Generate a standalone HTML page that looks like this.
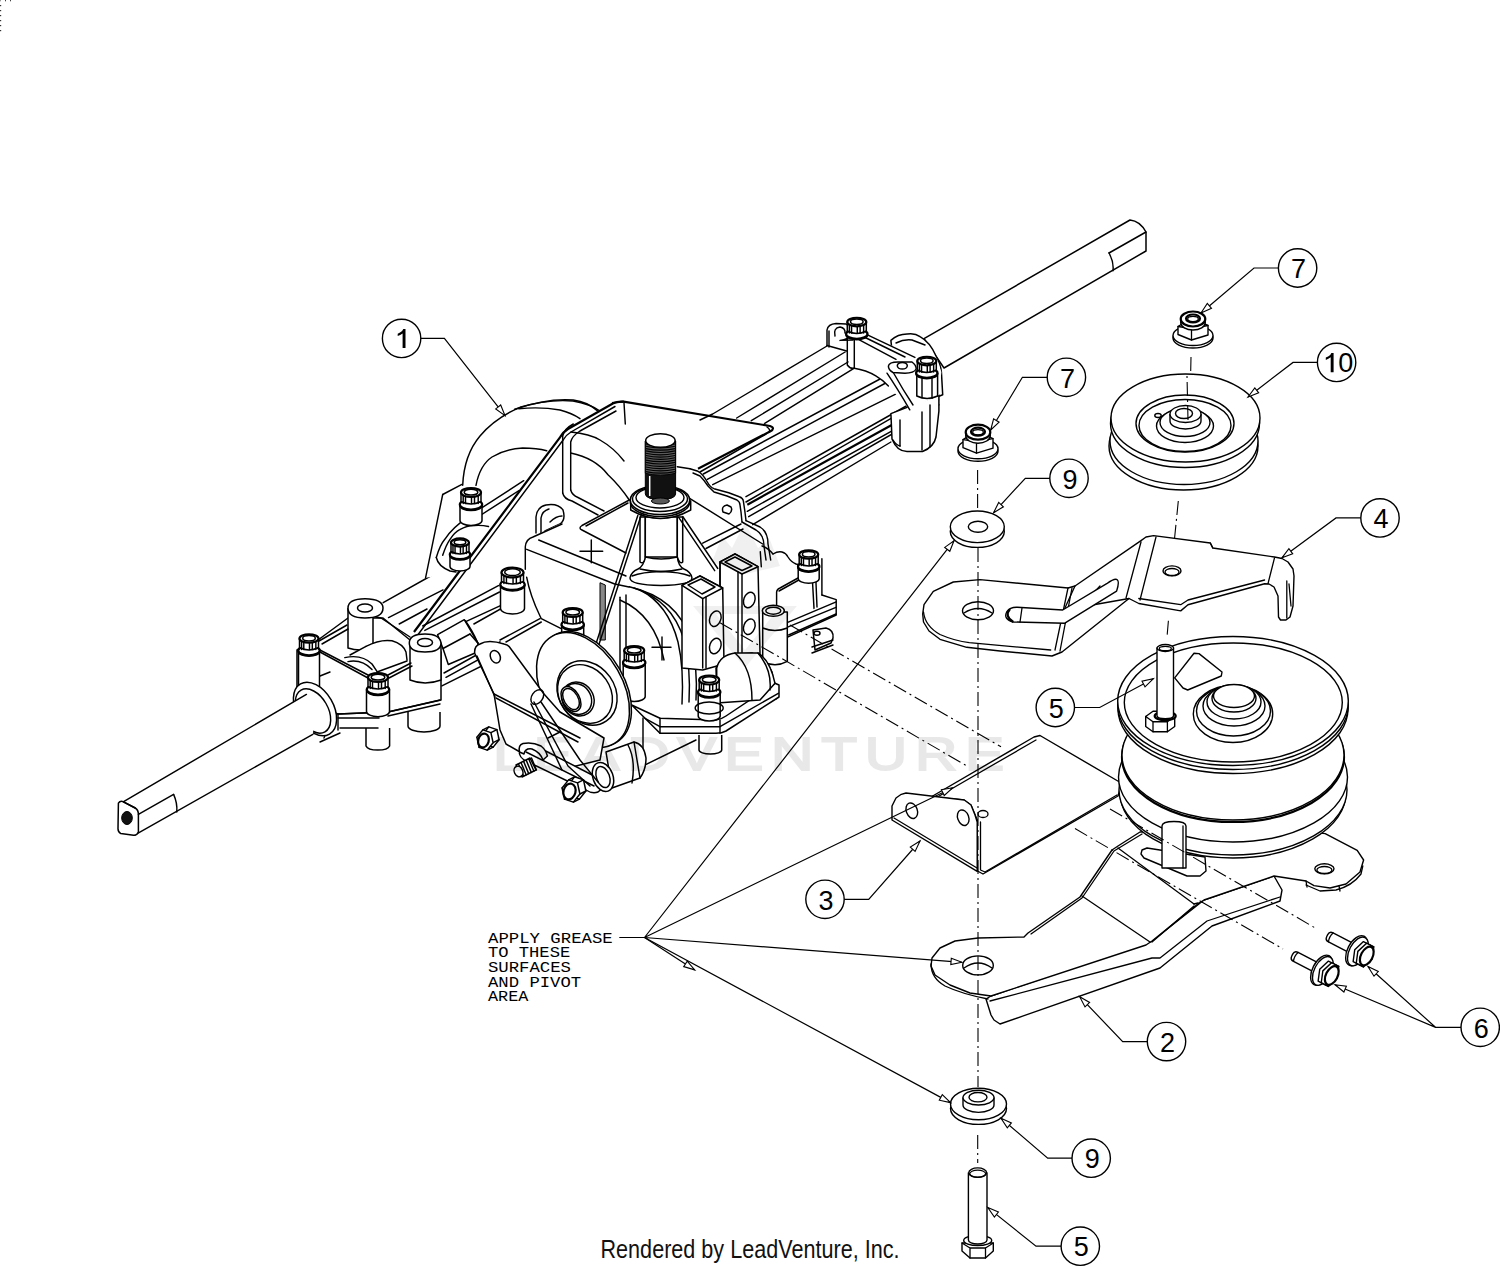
<!DOCTYPE html>
<html><head><meta charset="utf-8"><style>
html,body{margin:0;padding:0;background:#fff;width:1500px;height:1267px;overflow:hidden}
svg{display:block}
.c{fill:#fff;stroke:#000;stroke-width:1.4}
.n{font-family:"Liberation Sans",sans-serif;font-size:27px;text-anchor:middle;fill:#000}
.ld{fill:none;stroke:#000;stroke-width:1.2}
.ah{fill:#fff;stroke:#000;stroke-width:1.1;stroke-linejoin:miter}
.w{fill:#fff;stroke:#000;stroke-width:1.4;stroke-linejoin:round}
.f{fill:#fff;stroke:none}
.tx .l{stroke-width:1.45}
.tx .w{stroke-width:1.5}
.bt{fill:#fff;stroke:#000;stroke-width:2.2}
.l{fill:none;stroke:#000;stroke-width:1.3;stroke-linejoin:round;stroke-linecap:round}
.t{fill:none;stroke:#000;stroke-width:2.2;stroke-linejoin:round}
.k{fill:#111;stroke:#000;stroke-width:1}
.gr{fill:#888;stroke:#000;stroke-width:1}
.th{fill:none;stroke:#000;stroke-width:1.15}
.thr{fill:#5a5a5a;stroke:#000;stroke-width:1}
.hl{fill:none;stroke:#fff;stroke-width:1.5}
.dd{fill:none;stroke:#000;stroke-width:1.1;stroke-dasharray:14,4,2,4}
.g{font-family:"Liberation Mono",monospace;font-size:14.5px;fill:#000}
.r{font-family:"Liberation Sans",sans-serif;font-size:25.5px;fill:#111}
.wm{font-family:"Liberation Sans",sans-serif;font-size:45.5px;fill:#000;stroke:#000;stroke-width:1.8;letter-spacing:6px}
</style></head>
<body><svg width="1500" height="1267" viewBox="0 0 1500 1267">
<g class="tx">
<path d="M924,338.7 L1130,220 Q1140,221 1146,232 L1146,251 L944,368 Z" class="w"/>
<path d="M1109,253 L1146,232" class="l"/>
<path d="M1109,253 Q1114,262 1113,270.7" class="l"/>
<path d="M700,413.3 L830,347.5 L941,395 L936,440 L888,448 L755,530 L700,520 Z" class="f"/>
<path d="M700,420 L712.7,414 L827,346" class="l"/>
<path d="M736.7,418 L846.7,351" class="l"/>
<path d="M751.3,420.7 L848,362" class="l"/>
<path d="M764.7,423.3 L854.3,368.2" class="l"/>
<path d="M703.3,474 L888.4,374.5" class="l"/>
<path d="M707.3,479.3 L895,378" class="l"/>
<path d="M712.7,484.7 L909.8,387.1" class="l"/>
<path d="M746,496.7 L909.8,404" class="l"/>
<path d="M746,502 L938.9,390.9" class="l"/>
<path d="M747.3,504.7 L938.9,399" class="t"/>
<path d="M747.3,511.3 L938.9,404.8" class="l"/>
<path d="M748.7,516.7 L920,418" class="l"/>
<path d="M752.7,524.7 L890.9,442" class="l"/>
<path d="M723,512 Q721,506 727,505 L731,507 Q733,511 729,514 Z" class="w"/>
<path d="M690,468.7 L698,471.3 Q703,474 707.3,482 Q710,487 714,488.7 L728.7,492.7 L739.3,496.7 Q743,498 743.3,500.7 L744.7,510 L746,520.7" class="l"/>
<path d="M693,473 L700,476 Q704,480 708,486 L714,492 L727,496 L737,500 Q740,502 740,505 L741,512 L742,522" class="l"/>
<path d="M612,403 L623.6,401.7 L770,426 Q776,428 770,431.5 L698,468.7" class="t"/>
<path d="M767,427 Q771,430 769,432" class="l"/>
<path d="M766,434 L700,472" class="l"/>
<path d="M383.2,602.7 L444,568.5 L540,560 L540,640 L446,677 L400,640 Z" class="f"/>
<path d="M383.2,602.7 L444,568.5" class="l"/>
<path d="M388.5,617.6 L443,589.9" class="l"/>
<path d="M399.2,624 L427,609" class="l"/>
<path d="M422.7,626 L498.4,585.6" class="l"/>
<path d="M424.8,630.4 L499.5,592" class="l"/>
<path d="M439.7,633.6 L507,602.7" class="l"/>
<path d="M473.9,624 L540,586.7" class="l"/>
<path d="M444,673 L540,619.7" class="l"/>
<path d="M446,677.3 L540,626" class="l"/>
<path d="M441.9,685.9 L540,636.8" class="l"/>
<path d="M437.6,634.7 L464.3,619.7 L478,643.2 L478,651.7 L448.3,664.5 L443,648.5 Z" class="w"/>
<path d="M443,648.5 L470,634" class="l"/>
<path d="M470,634 L478,643.2" class="l"/>
<path d="M465.3,620.8 Q472,630 478,643.2" class="l"/>
<path d="M890.9,340.4 Q898,334 907.3,334.1 Q915,333 920,336.6 Q930,342 936,356 Q941,365 941.4,372 L942.7,394.7 L930,400 L895,380 Z" class="w"/>
<path d="M896,343 Q904,339 912,340 L925,345" class="l"/>
<path d="M890.9,413.6 L892,439 Q897,451.5 907,451.5 L922.5,451.5 Q934,447 936,437 L938.9,411.1 L938.9,395 Z" class="w"/>
<path d="M900,420 L900,446" class="l"/>
<path d="M922,412 L922,450" class="l"/>
<path d="M930,405 L930,447" class="l"/>
<path d="M893,440 Q896,445 900,446" class="l"/>
<path d="M827,329 L827,345.5 L846.7,352 L854.3,368.2 L875.8,375.8 L888.4,385.9 L909.8,409.8 L938.9,395 L941.4,372 L937,360 L916,357 L860,331 L850,325 L838,323 Z" class="f"/>
<path d="M827,345.5 L827,330 Q828,324 836,323.5 L846,324 Q851,327 850.5,333 Q849,340 840,340.4 L853,340" class="l"/>
<path d="M835,336 Q833,328 840,327 Q845.5,328 845,333" class="l"/>
<path d="M827,345.5 L846.7,351" class="l"/>
<path d="M829,347 L829,331" class="l"/>
<path d="M847.3,338 L847.3,365 Q850,369 854.3,368.2 L854.3,338" class="l"/>
<path d="M860.6,331.6 L914.9,357.4" class="l"/>
<path d="M855.6,337.9 L896,359.3" class="l"/>
<path d="M858,334 L905,357" class="l"/>
<path d="M854.3,368.2 Q866,370 875.8,375.8 Q883,380 888.4,385.9" class="l"/>
<path d="M887,373.2 Q897,388 909.8,409.8" class="l"/>
<path d="M893,372 Q903,390 913,405" class="l"/>
<path d="M888.4,366 Q889,361.9 898,361.9 L912,362 Q916.2,365 916.2,369 Q914,373.2 905,373.2 L893,372.5 Q888.4,370 888.4,366 Z" class="w"/>
<ellipse cx="902.3" cy="365.7" rx="5" ry="3.3" class="w" />
<path d="M916.8,373 L916.8,396 Q927,401 937.6,396 L937.6,373" class="w"/>
<path d="M922,376 L922,397" class="l"/>
<path d="M932,376 L932,398" class="l"/>
<ellipse cx="856.8" cy="335.0" rx="10.7" ry="4.775" class="w" />
<ellipse cx="856.8" cy="334.0" rx="10.7" ry="4.775" class="bt" />
<path d="M847.3,322.0 L847.3,331.0 Q856.8,336.0 866.3,331.0 L866.3,322.0 Z" class="w"/>
<path d="M849.39,324.9925 L849.39,333.0" class="l"/>
<path d="M851.5749999999999,324.9925 L851.5749999999999,333.0" class="l"/>
<path d="M857.275,324.9925 L857.275,333.0" class="l"/>
<path d="M860.125,324.9925 L860.125,333.0" class="l"/>
<path d="M863.64,324.9925 L863.64,333.0" class="l"/>
<ellipse cx="856.8" cy="322.0" rx="9.5" ry="4.275" class="bt" />
<ellipse cx="856.8" cy="321.7" rx="6.3" ry="2.6750000000000003" class="w" />
<ellipse cx="926.8" cy="374.0" rx="10.7" ry="4.775" class="w" />
<ellipse cx="926.8" cy="373.0" rx="10.7" ry="4.775" class="bt" />
<path d="M917.3,361.0 L917.3,370.0 Q926.8,375.0 936.3,370.0 L936.3,361.0 Z" class="w"/>
<path d="M919.39,363.9925 L919.39,372.0" class="l"/>
<path d="M921.5749999999999,363.9925 L921.5749999999999,372.0" class="l"/>
<path d="M927.275,363.9925 L927.275,372.0" class="l"/>
<path d="M930.125,363.9925 L930.125,372.0" class="l"/>
<path d="M933.64,363.9925 L933.64,372.0" class="l"/>
<ellipse cx="926.8" cy="361.0" rx="9.5" ry="4.275" class="bt" />
<ellipse cx="926.8" cy="360.7" rx="6.3" ry="2.6750000000000003" class="w" />
<path d="M366,728 L366,746 A12,5 0 0 0 389.6,746 L389.6,728" class="w"/>
<path d="M408,712 L408,726 A16,6 0 0 0 440,726 L440,712" class="w"/>
<path d="M297,650 L297,690 L300,700 L338,714 L388,712 L441,700 L441,652 L410,640 L383,618 L348,618 L318,640 Z" class="w"/>
<path d="M338,714 L388,712" class="l"/>
<path d="M338,718 L379,718" class="l"/>
<path d="M340,728 L378,728" class="l"/>
<path d="M338,714 L338,730" class="l"/>
<path d="M388,712 L440,700" class="l"/>
<path d="M388,716 L440,704" class="l"/>
<path d="M304,695 Q320,696 326,712 Q330,726 324,738" class="l"/>
<path d="M300,684 L330,672 M320,742 L340,733" class="l"/>
<path d="M348,608 L348,648 Q360,652 373,648 L373,608" class="w"/>
<path d="M410,643 L410,680 Q425,686 441,680 L441,643" class="w"/>
<path d="M348,608 Q348,598.7 365,598.7 Q383,599 383,608 Q383,618 365,618 Q348,618 348,608 Z" class="w"/>
<ellipse cx="365" cy="608" rx="7.5" ry="4" class="w" />
<path d="M409.3,643 Q409.3,634 425,634 Q440,634 441,643 Q441,652 425,652 Q409.3,652 409.3,643 Z" class="w"/>
<ellipse cx="425" cy="642.5" rx="7.5" ry="4" class="w" />
<path d="M344.8,657.6 L366,646 Q380,639 392,640.8 Q403,644 406,652 Q408,660 404,664 L377,672 Q372,662 360,658 Q352,656 344.8,657.6 Z" class="f"/>
<path d="M344.8,657.6 Q362,654 372,664 L376.8,671.2" class="l"/>
<path d="M348,661.6 Q362,659 372,669.6" class="l"/>
<path d="M350,655 L366,646.4" class="l"/>
<path d="M366,646.4 Q380,639 392,640.8 Q403,644 406,652 L407,660" class="l"/>
<path d="M377,672 L407,661" class="l"/>
<path d="M319,641 L347,625" class="l"/>
<path d="M322,644 L348,629" class="l"/>
<path d="M318,649 L368,675" class="l"/>
<path d="M320,652 L368,678" class="l"/>
<path d="M376,617 L381,618 L410,637" class="l"/>
<path d="M388,675 L411,663" class="l"/>
<path d="M389,678 L412,666" class="l"/>
<path d="M298.5,650.5 L298.5,690.5 A10.5,4.7250000000000005 0 0 0 319.5,690.5 L319.5,650.5" class="w"/>
<ellipse cx="309" cy="651.5" rx="10.7" ry="4.775" class="w" />
<ellipse cx="309" cy="650.5" rx="10.7" ry="4.775" class="bt" />
<path d="M299.5,638.5 L299.5,647.5 Q309,652.5 318.5,647.5 L318.5,638.5 Z" class="w"/>
<path d="M301.59,641.4925 L301.59,649.5" class="l"/>
<path d="M303.775,641.4925 L303.775,649.5" class="l"/>
<path d="M309.475,641.4925 L309.475,649.5" class="l"/>
<path d="M312.325,641.4925 L312.325,649.5" class="l"/>
<path d="M315.84,641.4925 L315.84,649.5" class="l"/>
<ellipse cx="309" cy="638.5" rx="9.5" ry="4.275" class="bt" />
<ellipse cx="309" cy="638.2" rx="6.3" ry="2.6750000000000003" class="w" />
<path d="M366.5,689.5 L366.5,711.5 A11.5,5.175 0 0 0 389.5,711.5 L389.5,689.5" class="w"/>
<ellipse cx="378" cy="690.5" rx="11.2" ry="5.0" class="w" />
<ellipse cx="378" cy="689.5" rx="11.2" ry="5.0" class="bt" />
<path d="M368.0,677.5 L368.0,686.5 Q378,691.5 388.0,686.5 L388.0,677.5 Z" class="w"/>
<path d="M370.2,680.65 L370.2,688.5" class="l"/>
<path d="M372.5,680.65 L372.5,688.5" class="l"/>
<path d="M378.5,680.65 L378.5,688.5" class="l"/>
<path d="M381.5,680.65 L381.5,688.5" class="l"/>
<path d="M385.2,680.65 L385.2,688.5" class="l"/>
<ellipse cx="378" cy="677.5" rx="10.0" ry="4.5" class="bt" />
<ellipse cx="378" cy="677.2" rx="6.8" ry="2.9" class="w" />
<ellipse cx="315" cy="709" rx="29" ry="18.5" class="w" transform="rotate(60 315 709)"/>
<ellipse cx="313" cy="711" rx="24" ry="15" class="l" transform="rotate(60 313 711)"/>
<path d="M123.2,801.9 L306.4,694.4 Q316,712 312.8,734.4 L135,834.9 Z" class="f"/>
<path d="M123.2,801.9 L306.4,694.4" class="l"/>
<path d="M135,834.9 L312.8,734.4" class="l"/>
<path d="M118.4,803.2 Q120,800.5 123.2,801.6 L135.2,808 Q138.4,810 138.4,814.4 L138.4,832 Q137,835.5 133.6,835.2 L120.8,833.6 Q118,832 118,828.8 Z" class="w"/>
<ellipse cx="127" cy="818" rx="5.3" ry="6.5" class="k" />
<path d="M138.4,814.4 L173.6,794.4" class="l"/>
<path d="M173.6,794.4 Q177.5,803 176.8,812" class="l"/>
<path d="M123.2,801.9 L135.2,808" class="l"/>
<path d="M425.6,577.7 L442.7,494.5 L461.9,484.4 L470,530 L445,575 Z" class="f"/>
<path d="M442.7,494.5 L425.6,577.7" class="l"/>
<path d="M442.7,494.5 L461.9,484.4" class="l"/>
<path d="M462.7,485.3 Q464,455 480,436 Q495,418 520,407.3 Q547,399 573,401 Q590,404 600,411 L585,450 L550,452 Q520,448 500,453.3 Q486,462 476,485.3 Z" class="f"/>
<path d="M462.7,485.3 Q464,455 480,436 Q495,418 520,407.3 Q547,399 573,401 Q590,404 600,411" class="l"/>
<path d="M514.7,409.3 Q547,398 573.3,400 Q588,402 597.3,410.7" class="l"/>
<path d="M518.7,408.7 Q541,406.5 560,410 Q572,413 580,418.7" class="l"/>
<path d="M476,485.3 Q480,465 492,457 Q505,449 522.7,448 Q537,448 546.7,450.7" class="l"/>
<path d="M436.3,557.5 Q440,545 444.8,539.3 Q452,528 469.3,515.9 L523.7,480.7 L526,486 L488.5,526.5 Q470,524 459.7,529.7 Q448,540 442.7,555.3 Q445,563 455.5,570.3 L450,576 Q438,568 436.3,557.5 Z" class="f"/>
<path d="M436.3,557.5 Q440,545 444.8,539.3 Q452,528 469.3,515.9 L523.7,480.7" class="l"/>
<path d="M474,519.5 L519,490.5" class="l"/>
<path d="M442.7,555.3 Q446,545 450,539.3 Q455,532 459.7,529.7 Q468,525 474.7,525.5 Q482,525 488.5,526.5" class="l"/>
<path d="M436.3,557.5 Q438,566 450,571 L456,572" class="l"/>
<path d="M479,521 Q482,512 480,503" class="l"/>
<path d="M562.7,440 Q564,432 573.3,424 L613.3,403.3 L624,402.7 L625.3,424 L640,440 L640,520 L613,525 L576,501 Q562.7,496 562.7,488 Z" class="f"/>
<path d="M562.7,493 L562.7,436 Q564,429 573.3,424" class="l"/>
<path d="M570.7,490 L570.7,442 Q572,436 580,431 L616,411" class="l"/>
<path d="M562.7,493 Q564,499 572,501 L598,515" class="l"/>
<path d="M570.7,490 Q572,495 578,497.5 L604,511" class="l"/>
<path d="M570.7,453 Q595,458 608,474.7 Q620,486 629.3,500" class="l"/>
<path d="M571,432 Q590,434 600,440 Q614,448 624,461" class="l"/>
<path d="M624,402.7 L625.3,424" class="l"/>
<path d="M536,533 L536,517 Q537,507 546,505 Q558,503 563,510 Q566,520 560,524 L545,531" class="l"/>
<path d="M541,533 L541,518 Q542,511 549,509" class="l"/>
<path d="M550,522 Q556,516 562,516" class="l"/>
<path d="M414,632 L560,437.3 Q563,432 568,429 L613.3,403.3 Q618,401 623.6,401.7" class="t"/>
<path d="M418.5,634 L563.5,439.5 Q566,435 571,432 L615,406.5" class="l"/>
<path d="M524,546 Q524,540 530,538 L560,524 L640,520 L700,560 L760,560 L800,600 L780,700 L700,740 L620,740 L520,700 L500,640 L524,600 Z" class="f"/>
<path d="M525.3,569.3 L525.3,546.7 Q526,539 533,537 L562,524" class="l"/>
<path d="M526.7,549.3 L614.7,584 L629,587" class="l"/>
<path d="M538.7,540 L626,576" class="l"/>
<path d="M629.3,500 L582,525.5 Q578,528 582,530 L626,553" class="l"/>
<path d="M628,503 L586,526" class="l"/>
<path d="M580,551.3 L602.7,551.3 M591.3,540 L591.3,562.7" class="l"/>
<path d="M652,647.3 L671,647.3 M662,637 L662,660" class="l"/>
<path d="M526.7,577.3 Q530,595 540,616 L541.3,618.7 L562.7,629.3" class="l"/>
<path d="M540,618.7 L500,640 M541.3,622 L506,642" class="l"/>
<path d="M600,582.7 L600,640 L605.3,640 L605.3,585 Z" class="gr"/>
<path d="M620,597.3 L620,690" class="l"/>
<path d="M626,595 L626,690" class="l"/>
<path d="M688,497.3 L762.7,544" class="l"/>
<path d="M677.3,466.7 L690,468.7" class="l"/>
<path d="M746,520.7 L760,527 Q768,532 768,544 L770.7,560" class="l"/>
<path d="M742,522 L756,530 Q764,535 764,546 L766,560" class="l"/>
<path d="M629.3,586.7 Q678,598 690.7,640 Q698,668 696,700" class="l"/>
<path d="M634,588 Q672,600 684,640 Q691,668 689,702" class="l"/>
<path d="M640,590 Q668,604 678,642 Q684,668 682,704" class="l"/>
<path d="M620,600 Q655,615 664,660" class="l"/>
<path d="M630,578 Q631,572 638,569 Q644,566 645.3,556 L677.3,556 Q678,566 684,569 Q691,572 692,578 Q692,585 661,585.5 Q630,585 630,578 Z" class="w"/>
<path d="M632,576 Q642,572 661,571.5 Q680,572 690,576" class="l"/>
<path d="M640,569 Q661,574 682,569" class="l"/>
<path d="M640,517 L640,562 Q644,565 645.3,557 L645.3,517 Z" class="w"/>
<path d="M645.3,517 L645.3,557 L677.3,557 L677.3,517 Z" class="w"/>
<path d="M677.3,517 L677.3,557 Q680,565 682.7,562 L682.7,517 Z" class="w"/>
<path d="M645.3,557 Q661,561 677.3,557" class="l"/>
<path d="M630.7,501 L630.7,510 Q660,527 690.7,510 L690.7,501 Z" class="w"/>
<ellipse cx="660" cy="502" rx="29.7" ry="14.5" class="w" />
<ellipse cx="660" cy="500" rx="29.7" ry="14.5" class="w" />
<ellipse cx="660" cy="499" rx="27.5" ry="12.5" class="l" />
<ellipse cx="660" cy="497.5" rx="24" ry="10.5" class="l" />
<path d="M645.3,441 L645.3,494 Q646,499.5 660.4,499.5 Q675,499.5 675.6,494 L675.6,441 Z" class="k"/>
<path d="M645.3,441 L645.3,473.3 Q660.4,477 675.6,473.3 L675.6,441 Z" class="thr"/>
<path d="M645.8,444.0 Q660.4,447.2 675.1,444.0" class="th"/>
<path d="M645.8,446.3 Q660.4,449.5 675.1,446.3" class="th"/>
<path d="M645.8,448.6 Q660.4,451.8 675.1,448.6" class="th"/>
<path d="M645.8,450.9 Q660.4,454.1 675.1,450.9" class="th"/>
<path d="M645.8,453.2 Q660.4,456.4 675.1,453.2" class="th"/>
<path d="M645.8,455.5 Q660.4,458.7 675.1,455.5" class="th"/>
<path d="M645.8,457.8 Q660.4,461.0 675.1,457.8" class="th"/>
<path d="M645.8,460.1 Q660.4,463.3 675.1,460.1" class="th"/>
<path d="M645.8,462.4 Q660.4,465.6 675.1,462.4" class="th"/>
<path d="M645.8,464.7 Q660.4,467.9 675.1,464.7" class="th"/>
<path d="M645.8,467.0 Q660.4,470.2 675.1,467.0" class="th"/>
<path d="M645.8,469.3 Q660.4,472.5 675.1,469.3" class="th"/>
<path d="M645.8,471.6 Q660.4,474.8 675.1,471.6" class="th"/>
<path d="M649.7,476 L649.7,496" class="hl"/>
<ellipse cx="660.4" cy="440.5" rx="14.7" ry="6.8" class="w" />
<ellipse cx="660.4" cy="501" rx="9" ry="3" class="thr" />
<path d="M641.3,514.7 L598.7,645.3 M637.8,515.5 L595.5,645.3" class="l"/>
<path d="M678.7,517.3 L714.7,570.7 M682.7,516.5 L717.8,568.5" class="l"/>
<path d="M773.3,589.3 L773.3,560 Q775,552 783,552 L792,558 L812,566 L821.3,566.7 L821.3,594.7 L836,600 L836,613.3 L790.7,640 L773.3,640 Z" class="f"/>
<path d="M773,554 Q778,551 782,552 Q786,553 788,557 Q791,562 796,564 L800,565" class="l"/>
<path d="M762,546 Q768,548 773,554" class="l"/>
<path d="M776.6,622.8 L776.6,592 Q777,589 780,588 L808,572.5 Q811,571 812,573 L814,608.4" class="l"/>
<path d="M779,591 L806,576" class="l"/>
<path d="M812,571 L812,573 M815.5,571 L817,607" class="l"/>
<path d="M821.9,558.7 L821.9,595" class="l"/>
<path d="M821.9,595 L836.2,599.6 L836.2,615 L787.6,637.1" class="l"/>
<path d="M786.5,622.8 L836.2,601.8" class="l"/>
<path d="M787.6,627.2 L836,607.3" class="l"/>
<path d="M788.7,635 L836,614" class="l"/>
<path d="M798.2,566.5 L798.2,578.5 A10.5,4.7250000000000005 0 0 0 819.2,578.5 L819.2,566.5" class="w"/>
<ellipse cx="808.7" cy="567.5" rx="10.7" ry="4.775" class="w" />
<ellipse cx="808.7" cy="566.5" rx="10.7" ry="4.775" class="bt" />
<path d="M799.2,554.5 L799.2,563.5 Q808.7,568.5 818.2,563.5 L818.2,554.5 Z" class="w"/>
<path d="M801.2900000000001,557.4925 L801.2900000000001,565.5" class="l"/>
<path d="M803.475,557.4925 L803.475,565.5" class="l"/>
<path d="M809.1750000000001,557.4925 L809.1750000000001,565.5" class="l"/>
<path d="M812.0250000000001,557.4925 L812.0250000000001,565.5" class="l"/>
<path d="M815.5400000000001,557.4925 L815.5400000000001,565.5" class="l"/>
<ellipse cx="808.7" cy="554.5" rx="9.5" ry="4.275" class="bt" />
<ellipse cx="808.7" cy="554.2" rx="6.3" ry="2.6750000000000003" class="w" />
<path d="M813,630 L826,628 Q834,630 833,638 L831,643 L815,650 Z" class="w"/>
<ellipse cx="817" cy="633.3" rx="3" ry="2" class="l" />
<path d="M812,647 L833,640" class="l"/>
<path d="M812,653 L833,645" class="l"/>
<path d="M720,562 L735,554 L758,566.7 L760,653.3 L744,660 L720,660 Z" class="w"/>
<path d="M720,562 L735,554 L758,566.7 L742,574 Z" class="w"/>
<path d="M725,562 L735,557 L752,566 L742,570.5 Z" class="l"/>
<path d="M742,574 L742,660" class="l"/>
<path d="M738,572 L738,660" class="l"/>
<path d="M720,562 L720,660" class="l"/>
<path d="M760.3,551.7 L761.3,566.7" class="l"/>
<path d="M702.7,543.2 L741,524 M706,548.5 L743,529" class="l"/>
<ellipse cx="749.3" cy="600" rx="5.5" ry="8" class="l" transform="rotate(20 749.3 600)"/>
<ellipse cx="749.3" cy="626.7" rx="5.5" ry="8" class="l" transform="rotate(20 749.3 626.7)"/>
<path d="M682,585.3 L700,576 L722.7,588 L724,664 L702.7,670 L682,668 Z" class="w"/>
<path d="M682,585.3 L700,576 L722.7,588 L702.7,598.7 Z" class="w"/>
<path d="M688,585 L701,579 L715,587 L702,594 Z" class="l"/>
<path d="M702.7,598.7 L702.7,668" class="l"/>
<path d="M706,597 L706,668" class="l"/>
<ellipse cx="715.3" cy="618.7" rx="5.5" ry="8" class="l" transform="rotate(20 715.3 618.7)"/>
<ellipse cx="715.3" cy="646" rx="5.5" ry="8" class="l" transform="rotate(20 715.3 646)"/>
<path d="M762.7,612 L762.7,661.3 Q775,668 787.3,661.3 L787.3,612 Z" class="w"/>
<ellipse cx="773.3" cy="610.7" rx="11" ry="5.5" class="w" />
<ellipse cx="773.3" cy="610.7" rx="7.5" ry="3.5" class="l" />
<path d="M762.7,628 Q775,633 787.3,628" class="l"/>
<path d="M717,697 L716,668 Q722,656 738,654 L752,653 Q766,658 772,672 L776,699 Z" class="w"/>
<path d="M728,698 Q727,666 746,660 Q762,664 766,698" class="l"/>
<path d="M606,784 L696,740 L700,735 L643,718 L606,752 Z" class="f"/>
<path d="M606,784 L696,740" class="l"/>
<path d="M606,778 L641.7,760" class="l"/>
<path d="M643,718 L643,760" class="l"/>
<path d="M631.7,705 L660,718.3 L716,720 Q722,719 726,716 L775,683.3 L779,685 L779,697 L726,731 Q722,733.3 716,733.3 L660,733.3 L645,718.3 Z" class="w"/>
<path d="M660,726.7 L720,726.7 L778.3,693.3" class="l"/>
<path d="M660,718.3 L660,733.3" class="l"/>
<path d="M720,720 L720,733.3" class="l"/>
<path d="M645,718.3 L660,726.7" class="l"/>
<path d="M716.7,703 L716.7,668 Q720,655 735,653 L758,653 Q770,660 775,683.3 L760,700 Z" class="w"/>
<path d="M735,653 Q752,668 752,700" class="l"/>
<path d="M758,653 Q772,670 770,690" class="l"/>
<path d="M699,735 L699,750 A11.3,4 0 0 0 721.7,750 L721.7,735" class="w"/>
<path d="M623.2,662.5 L623.2,696.5 A11.0,4.95 0 0 0 645.2,696.5 L645.2,662.5" class="w"/>
<ellipse cx="634.2" cy="663.5" rx="11.2" ry="5.0" class="w" />
<ellipse cx="634.2" cy="662.5" rx="11.2" ry="5.0" class="bt" />
<path d="M624.2,650.5 L624.2,659.5 Q634.2,664.5 644.2,659.5 L644.2,650.5 Z" class="w"/>
<path d="M626.4000000000001,653.65 L626.4000000000001,661.5" class="l"/>
<path d="M628.7,653.65 L628.7,661.5" class="l"/>
<path d="M634.7,653.65 L634.7,661.5" class="l"/>
<path d="M637.7,653.65 L637.7,661.5" class="l"/>
<path d="M641.4000000000001,653.65 L641.4000000000001,661.5" class="l"/>
<ellipse cx="634.2" cy="650.5" rx="10.0" ry="4.5" class="bt" />
<ellipse cx="634.2" cy="650.2" rx="6.8" ry="2.9" class="w" />
<path d="M698.2,692.0 L698.2,716.0 A11.0,4.95 0 0 0 720.2,716.0 L720.2,692.0" class="w"/>
<ellipse cx="709.2" cy="693.0" rx="11.2" ry="5.0" class="w" />
<ellipse cx="709.2" cy="692.0" rx="11.2" ry="5.0" class="bt" />
<path d="M699.2,680.0 L699.2,689.0 Q709.2,694.0 719.2,689.0 L719.2,680.0 Z" class="w"/>
<path d="M701.4000000000001,683.15 L701.4000000000001,691.0" class="l"/>
<path d="M703.7,683.15 L703.7,691.0" class="l"/>
<path d="M709.7,683.15 L709.7,691.0" class="l"/>
<path d="M712.7,683.15 L712.7,691.0" class="l"/>
<path d="M716.4000000000001,683.15 L716.4000000000001,691.0" class="l"/>
<ellipse cx="709.2" cy="680.0" rx="10.0" ry="4.5" class="bt" />
<ellipse cx="709.2" cy="679.7" rx="6.8" ry="2.9" class="w" />
<ellipse cx="709.2" cy="708" rx="14" ry="6" class="l" />
<path d="M460.0,504.5 L460.0,520.5 A11.0,4.95 0 0 0 482.0,520.5 L482.0,504.5" class="w"/>
<ellipse cx="471" cy="505.5" rx="11.2" ry="5.0" class="w" />
<ellipse cx="471" cy="504.5" rx="11.2" ry="5.0" class="bt" />
<path d="M461.0,492.5 L461.0,501.5 Q471,506.5 481.0,501.5 L481.0,492.5 Z" class="w"/>
<path d="M463.2,495.65 L463.2,503.5" class="l"/>
<path d="M465.5,495.65 L465.5,503.5" class="l"/>
<path d="M471.5,495.65 L471.5,503.5" class="l"/>
<path d="M474.5,495.65 L474.5,503.5" class="l"/>
<path d="M478.2,495.65 L478.2,503.5" class="l"/>
<ellipse cx="471" cy="492.5" rx="10.0" ry="4.5" class="bt" />
<ellipse cx="471" cy="492.2" rx="6.8" ry="2.9" class="w" />
<path d="M450.0,554.5 L450.0,566.5 A10.0,4.5 0 0 0 470.0,566.5 L470.0,554.5" class="w"/>
<ellipse cx="460" cy="555.5" rx="10.2" ry="4.55" class="w" />
<ellipse cx="460" cy="554.5" rx="10.2" ry="4.55" class="bt" />
<path d="M451.0,542.5 L451.0,551.5 Q460,556.5 469.0,551.5 L469.0,542.5 Z" class="w"/>
<path d="M452.98,545.335 L452.98,553.5" class="l"/>
<path d="M455.05,545.335 L455.05,553.5" class="l"/>
<path d="M460.45,545.335 L460.45,553.5" class="l"/>
<path d="M463.15,545.335 L463.15,553.5" class="l"/>
<path d="M466.48,545.335 L466.48,553.5" class="l"/>
<ellipse cx="460" cy="542.5" rx="9.0" ry="4.05" class="bt" />
<ellipse cx="460" cy="542.2" rx="5.8" ry="2.4499999999999997" class="w" />
<path d="M500.5,584.5 L500.5,608.5 A12.0,5.4 0 0 0 524.5,608.5 L524.5,584.5" class="w"/>
<ellipse cx="512.5" cy="585.5" rx="12.2" ry="5.45" class="w" />
<ellipse cx="512.5" cy="584.5" rx="12.2" ry="5.45" class="bt" />
<path d="M501.5,572.5 L501.5,581.5 Q512.5,586.5 523.5,581.5 L523.5,572.5 Z" class="w"/>
<path d="M503.92,575.965 L503.92,583.5" class="l"/>
<path d="M506.45,575.965 L506.45,583.5" class="l"/>
<path d="M513.05,575.965 L513.05,583.5" class="l"/>
<path d="M516.35,575.965 L516.35,583.5" class="l"/>
<path d="M520.42,575.965 L520.42,583.5" class="l"/>
<ellipse cx="512.5" cy="572.5" rx="11.0" ry="4.95" class="bt" />
<ellipse cx="512.5" cy="572.2" rx="7.8" ry="3.35" class="w" />
<path d="M561.7,624.5 L561.7,638.5 A11.0,4.95 0 0 0 583.7,638.5 L583.7,624.5" class="w"/>
<ellipse cx="572.7" cy="625.5" rx="11.2" ry="5.0" class="w" />
<ellipse cx="572.7" cy="624.5" rx="11.2" ry="5.0" class="bt" />
<path d="M562.7,612.5 L562.7,621.5 Q572.7,626.5 582.7,621.5 L582.7,612.5 Z" class="w"/>
<path d="M564.9000000000001,615.65 L564.9000000000001,623.5" class="l"/>
<path d="M567.2,615.65 L567.2,623.5" class="l"/>
<path d="M573.2,615.65 L573.2,623.5" class="l"/>
<path d="M576.2,615.65 L576.2,623.5" class="l"/>
<path d="M579.9000000000001,615.65 L579.9000000000001,623.5" class="l"/>
<ellipse cx="572.7" cy="612.5" rx="10.0" ry="4.5" class="bt" />
<ellipse cx="572.7" cy="612.2" rx="6.8" ry="2.9" class="w" />
<path d="M606,752 L634,742 Q644,744 646,758 Q646,770 640,778 L612,788 Z" class="w"/>
<path d="M634,742 L640,778" class="l"/>
<path d="M628,745 Q636,760 632,783" class="l"/>
<ellipse cx="585" cy="689" rx="62" ry="40" class="w" transform="rotate(60 585 689)"/>
<ellipse cx="583" cy="690" rx="62" ry="40" class="w" transform="rotate(60 583 690)"/>
<ellipse cx="587" cy="693" rx="34" ry="28" class="l" transform="rotate(55 587 693)"/>
<ellipse cx="585" cy="694" rx="31" ry="25.5" class="l" transform="rotate(55 585 694)"/>
<ellipse cx="578" cy="699" rx="17.5" ry="15.5" class="l" transform="rotate(55 578 699)"/>
<ellipse cx="577" cy="699" rx="16" ry="14" class="l" transform="rotate(55 577 699)"/>
<ellipse cx="571" cy="699" rx="13.5" ry="8.5" class="w" transform="rotate(60 571 699)"/>
<ellipse cx="571" cy="699" rx="11.5" ry="7" class="l" transform="rotate(60 571 699)"/>
<path d="M474.7,653.3 Q474,646 480,644 Q488,639 504,644 Q508,645 509.3,646.7 L544,694 L560,712 L604,738 L600,760 L560,770 L520,752 L506,744 L500,730 L494,694 Z" class="w"/>
<path d="M477,656 L495,697" class="l"/>
<path d="M494,694 L580,738 M496,698 L578,742" class="l"/>
<ellipse cx="495.3" cy="656.7" rx="4.8" ry="6.5" class="w" transform="rotate(-25 495.3 656.7)"/>
<path d="M522,748 Q528,742 536,746 L598,778 Q606,786 598,792 Q592,794 586,790 L524,760 Q516,754 522,748 Z" class="w"/>
<path d="M526,752 L594,786" class="l"/>
<ellipse cx="603" cy="777" rx="10" ry="15" class="w" transform="rotate(-20 603 777)"/>
<ellipse cx="603" cy="777" rx="6.5" ry="11" class="l" transform="rotate(-20 603 777)"/>
<ellipse cx="537.3" cy="697" rx="5.5" ry="8" class="l" transform="rotate(35 537.3 697)"/>
<path d="M534,702 L568,766 L590,786 M541,702 L580,760 L598,782" class="l"/>
<path d="M531,704 L562,770" class="l"/>
<path d="M548,738 L560,732" class="l"/>
<path d="M519.5,752 Q518,745 523,743.5 Q532,741.5 541,746 Q546,750 547.4,756 L543,760 Q540,752 532,749 Q525,748 524,754 Z" class="w"/>
<path d="M499.1,739.7 L493.2,747.1 L485.1,744.4 L482.9,734.3 L488.8,726.9 L496.9,729.6 Z" class="w"/>
<path d="M493.1,742.7 L499.1,739.7" class="l"/>
<path d="M487.2,750.1 L493.2,747.1" class="l"/>
<path d="M479.1,747.4 L485.1,744.4" class="l"/>
<path d="M476.9,737.3 L482.9,734.3" class="l"/>
<path d="M482.8,729.9 L488.8,726.9" class="l"/>
<path d="M490.9,732.6 L496.9,729.6" class="l"/>
<path d="M493.1,742.7 L487.2,750.1 L479.1,747.4 L476.9,737.3 L482.8,729.9 L490.9,732.6 Z" class="w"/>
<ellipse cx="483.5" cy="740.5" rx="5.25" ry="7" class="bt" transform="rotate(15 483.5 740.5)"/>
<path d="M516,765 L530,758 L536,770 L522,777 Z" class="w"/>
<path d="M518.5,764.0 L523.5,776.0" class="l"/>
<path d="M521.1,762.8 L526.1,774.8" class="l"/>
<path d="M523.7,761.6 L528.7,773.6" class="l"/>
<path d="M526.3,760.4 L531.3,772.4" class="l"/>
<path d="M528.9,759.2 L533.9,771.2" class="l"/>
<path d="M531.5,758.0 L536.5,770.0" class="l"/>
<ellipse cx="518.5" cy="771.5" rx="4.2" ry="5.5" class="w" transform="rotate(-25 518.5 771.5)"/>
<path d="M585.9,791.0 L579.4,799.1 L570.5,796.1 L568.1,785.0 L574.6,776.9 L583.5,779.9 Z" class="w"/>
<path d="M579.9,794.0 L585.9,791.0" class="l"/>
<path d="M573.4,802.1 L579.4,799.1" class="l"/>
<path d="M564.5,799.1 L570.5,796.1" class="l"/>
<path d="M562.1,788.0 L568.1,785.0" class="l"/>
<path d="M568.6,779.9 L574.6,776.9" class="l"/>
<path d="M577.5,782.9 L583.5,779.9" class="l"/>
<path d="M579.9,794.0 L573.4,802.1 L564.5,799.1 L562.1,788.0 L568.6,779.9 L577.5,782.9 Z" class="w"/>
<ellipse cx="569.5" cy="791.5" rx="6.0" ry="8" class="bt" transform="rotate(15 569.5 791.5)"/>
</g>
<path d="M1191,357 L1190,406" class="dd"/>
<path d="M977.6,470 L977.6,522" class="dd"/>
<path d="M1178.3,501 L1172,564 M1168.4,620.7 L1167,637" class="dd"/>
<ellipse cx="1193" cy="338.0" rx="20.0" ry="10.0" class="w" />
<ellipse cx="1193" cy="335.5" rx="20.0" ry="10.0" class="w" />
<path d="M1178.0,326.5 L1178.0,334.5 L1191.5,340.0 L1208.0,335.0 L1208.0,325.5 L1199.0,321.5 L1186.0,321.5 Z" class="w"/>
<path d="M1191.5,340.0 L1191.5,328.5 M1178.0,326.5 L1191.5,328.5 L1208.0,325.5" class="l"/>
<ellipse cx="1193" cy="322.5" rx="12.3" ry="7.5" class="w" />
<ellipse cx="1193" cy="319.0" rx="12.3" ry="7.5" class="bt" />
<ellipse cx="1193" cy="318.5" rx="7.0" ry="4.0" class="bt" />
<ellipse cx="1193" cy="319.0" rx="5.3" ry="2.6" class="l" />
<ellipse cx="978" cy="451.2" rx="20.0" ry="10.0" class="w" />
<ellipse cx="978" cy="448.7" rx="20.0" ry="10.0" class="w" />
<path d="M963.0,439.7 L963.0,447.7 L976.5,453.2 L993.0,448.2 L993.0,438.7 L984.0,434.7 L971.0,434.7 Z" class="w"/>
<path d="M976.5,453.2 L976.5,441.7 M963.0,439.7 L976.5,441.7 L993.0,438.7" class="l"/>
<ellipse cx="978" cy="435.7" rx="12.3" ry="7.5" class="w" />
<ellipse cx="978" cy="432.2" rx="12.3" ry="7.5" class="bt" />
<ellipse cx="978" cy="431.7" rx="7.0" ry="4.0" class="bt" />
<ellipse cx="978" cy="432.2" rx="5.3" ry="2.6" class="l" />
<ellipse cx="977.3" cy="531.6" rx="27" ry="15.8" class="w" />
<ellipse cx="977.3" cy="526.8" rx="27" ry="15.8" class="w" />
<ellipse cx="978" cy="526.7" rx="9.7" ry="5.5" class="w" />
<ellipse cx="1183.5" cy="446" rx="74.5" ry="44" class="w" />
<ellipse cx="1184" cy="441" rx="74" ry="43.5" class="w" />
<ellipse cx="1185" cy="423.5" rx="74.5" ry="44" class="w" />
<ellipse cx="1185.5" cy="418" rx="74.5" ry="44" class="w" />
<ellipse cx="1185" cy="423.5" rx="49" ry="28.5" class="w" />
<ellipse cx="1185" cy="425.5" rx="46" ry="26" class="w" />
<ellipse cx="1185" cy="426" rx="28.5" ry="16.5" class="w" />
<ellipse cx="1185" cy="422.5" rx="25" ry="14" class="w" />
<path d="M1170,414 L1170,421 A15.5,8 0 0 0 1201,421 L1201,414" class="w"/>
<ellipse cx="1185.5" cy="414" rx="15.5" ry="8.5" class="w" />
<ellipse cx="1184" cy="413.5" rx="8.5" ry="5" class="w" />
<ellipse cx="1158" cy="415.5" rx="3.2" ry="2" class="w" />
<path d="M1188,420 L1187,376" class="dd"/>
<path d="M980,579.6 L1068,588 L1075,586 L1141,540.6 L1146,537 L1153.6,535.6 L1210.3,543 L1212.8,548 L1274.5,557 L1282,558.5 L1288,562 L1293,569 L1294,576 L1293,606 L1290,617 L1286,620 L1280.5,620 L1278.5,617 L1278,596 L1274,587 L1269,584 L1264.6,583.7 L1188,604.7 L1180.7,610.9 L1138.8,603.5 L1129,598.5 L1062,652 L1052,656 L1000,651 L966.7,647.3 L940,639.3 L929,631 L923.5,622 L922.7,614 L924,604.7 L933.3,591.3 L953.3,582 Z" class="w"/>
<path d="M923.5,612 Q925,626 940,634.5 Q955,641 969.3,642.7 L1050.7,650" class="l"/>
<path d="M1068,588 L1055,650 M1072,588 L1060,651" class="l"/>
<path d="M1075,586 L1064,610 M1064,610 L1129,598.5 M1141,542 L1126,598 M1156,537 L1140,600" class="l"/>
<path d="M1100,586 L1064.8,623.2" class="l"/>
<path d="M1017.3,607.3 L1062.7,610 L1106.7,583.7 Q1122.8,572 1116.6,591.1 L1064.8,623.2 L1013.3,622 Q1003,619 1006.7,612 Q1010,607 1017.3,607.3 Z" class="w"/>
<path d="M1010,609 Q1004,616 1013.3,622" class="t"/>
<path d="M1022,608 L1020,622" class="l"/>
<path d="M1138.8,598.5 L1180.7,604.7 L1188,600 L1264.6,580" class="l"/>
<path d="M1274.5,557.8 L1268,583.7 M1286.8,581 L1286.8,618 M1289,584 L1291,606" class="l"/>
<path d="M1210.3,543 L1212.8,548" class="l"/>
<ellipse cx="978" cy="610.7" rx="15.5" ry="9" class="w" />
<path d="M964,613 Q978,604 992,613" class="l"/>
<ellipse cx="1172" cy="570.9" rx="9" ry="5" class="w" />
<ellipse cx="1172" cy="572" rx="7" ry="3.5" class="l" />
<path d="M931,797 L1034,737 L1040,735.5 L1119.5,782 L1120,789 L1118,796 L983,874 L977.5,871 L977.2,820 L971,805 L964,800 Z" class="w"/>
<path d="M934,799 L1036,740 M977.2,820 L977.2,870 M980.5,822 L980.5,870 L985,872 L1117,795" class="l"/>
<path d="M901.3,794.3 L906,793 L964.3,800 L971,805 L975,815 L977.2,822 L977.2,871.3 L892,820 L892,806 L896,798 Z" class="w"/>
<path d="M894,818 L977,868" class="l"/>
<ellipse cx="911.8" cy="810.7" rx="5.5" ry="8" class="w" transform="rotate(-20 911.8 810.7)"/>
<ellipse cx="963.2" cy="817.7" rx="5.5" ry="8" class="w" transform="rotate(-20 963.2 817.7)"/>
<ellipse cx="983" cy="814" rx="5" ry="3.5" class="l" />
<path d="M986,999 L991,1015 L994,1020 L1000,1024 L1160,968 L1212,926 L1280,901 L1282,890 L1274,876 L1204,900 L1152,941 L991,996 Z" class="w"/>
<path d="M990,1001 L1152,958 L1160,958 L1207,921 L1280,897" class="l"/>
<path d="M1024,937 L978,938 L955,941 L940,948 L932,958 L931,966 L935,975 L950,985 L970,993 L991,996 L1146,945 L1152,941 L1199,903 L1204,900 L1274,876 L1306,881 L1314,885.6 L1330,888 L1346,884 L1360,872 L1363.6,860 L1357.2,850.4 L1325.2,833.6 L1260,826 L1140,832 L1118,846 L1112,850 L1080,897 L1028,933 Z" class="w"/>
<path d="M931,964 Q931,978 945,986 Q962,994 988,999" class="l"/>
<path d="M1362.8,866 L1361,874 Q1352,886 1336,890 L1320,891 L1306,885" class="l"/>
<path d="M1031,934 L1082,898 L1114,851 L1142,834" class="l"/>
<path d="M1082,896 L1150,942 M1118,848 L1194,904 M1152,942 L1194,906" class="l"/>
<path d="M1194,904 L1198,903" class="l"/>
<ellipse cx="978" cy="965.4" rx="15.3" ry="9.5" class="w" />
<path d="M964,968 Q978,958 992,968" class="l"/>
<ellipse cx="1324.4" cy="868.8" rx="9.6" ry="5" class="w" />
<ellipse cx="1324.4" cy="870" rx="7.5" ry="3.5" class="l" />
<path d="M1306,881 L1307,887 M1339,886 L1340,891" class="l"/>
<ellipse cx="1233" cy="793" rx="113" ry="65" class="w" />
<ellipse cx="1233" cy="790" rx="114" ry="65" class="w" />
<ellipse cx="1233" cy="777" rx="114.5" ry="65" class="w" />
<ellipse cx="1233" cy="757" rx="111" ry="65" class="t" />
<ellipse cx="1233" cy="755" rx="111" ry="65" class="w" />
<ellipse cx="1233" cy="709" rx="115" ry="64.5" class="w" />
<ellipse cx="1233" cy="705" rx="115.3" ry="64.5" class="w" />
<ellipse cx="1233" cy="701" rx="115.3" ry="64.5" class="w" />
<ellipse cx="1233.3" cy="702.5" rx="109" ry="59.5" class="w" />
<ellipse cx="1233" cy="714" rx="39.7" ry="28.5" class="w" />
<ellipse cx="1233.5" cy="711" rx="37" ry="25" class="w" />
<ellipse cx="1234" cy="706" rx="31" ry="20" class="w" />
<ellipse cx="1234" cy="702" rx="27" ry="17" class="w" />
<ellipse cx="1234" cy="698.5" rx="22" ry="13.5" class="w" />
<ellipse cx="1234" cy="696" rx="20.5" ry="11.5" class="w" />
<path d="M1174.7,677.9 L1194,653.2 L1199,653.6 L1222,672 L1221.3,676 L1187.7,690 L1183,688 Z" class="w"/>
<path d="M1145.7,716.5 L1145.7,726.5 L1153.0,731.8 L1167.4,731.8 L1174.7,726.5 L1174.7,716.5 Z" class="w"/>
<path d="M1174.7,716.5 L1167.4,721.8 L1153.0,721.8 L1145.7,716.5 L1153.0,711.2 L1167.4,711.2 Z" class="w"/>
<path d="M1153.0,721.8 L1153.0,731.8 M1167.4,721.8 L1167.4,731.8" class="l"/>
<ellipse cx="1165.2" cy="716" rx="10.5" ry="4.2" class="bt" />
<path d="M1157,648 L1157,716 A8.3,3 0 0 0 1173.5,716 L1173.5,648 Z" class="w"/>
<ellipse cx="1165.3" cy="648" rx="8.3" ry="3.5" class="w" />
<ellipse cx="1165.3" cy="648.5" rx="6" ry="2.2" class="l" />
<path d="M1142,850 L1147,848 L1205,857 L1206,871 L1200,876 L1187,876 L1144,858 L1141,854 Z" class="w"/>
<path d="M1162,868 L1162,826 Q1162,821.5 1174,821.5 Q1186,821.5 1186,826 L1186,868 Z" class="w"/>
<path d="M1183,826 L1183,868" class="l"/>
<g transform="translate(1361,953) rotate(27.3)">
<path d="M-8,-5 L-34,-5 Q-38,-5 -38,-1 L-38,1 Q-38,5 -34,5 L-8,5 Z" class="w"/>
<path d="M-34,-5 Q-36,0 -34,5" class="l"/>
<ellipse cx="-5" cy="0" rx="9" ry="16.3" class="w" />
<ellipse cx="-3.5" cy="0" rx="8.5" ry="15.6" class="w" />
<path d="M9.06,0.0 L5.03,11.26 L-3.03,11.26 L-7.06,0.0 L-3.03,-11.26 L5.03,-11.26 Z" class="w"/>
<path d="M12.56,0.0 L8.53,11.26 L0.47,11.26 L-3.56,0.0 L0.47,-11.26 L8.53,-11.26 Z" class="w"/>
<path d="M9.06,0.00 L12.56,0.00" class="l"/>
<path d="M5.03,11.26 L8.53,11.26" class="l"/>
<path d="M5.03,-11.26 L8.53,-11.26" class="l"/>
<ellipse cx="6.5" cy="0" rx="5.8" ry="10" class="bt" />
</g>
<g transform="translate(1326,972.5) rotate(27.3)">
<path d="M-8,-5 L-34,-5 Q-38,-5 -38,-1 L-38,1 Q-38,5 -34,5 L-8,5 Z" class="w"/>
<path d="M-34,-5 Q-36,0 -34,5" class="l"/>
<ellipse cx="-5" cy="0" rx="9" ry="16.3" class="w" />
<ellipse cx="-3.5" cy="0" rx="8.5" ry="15.6" class="w" />
<path d="M9.06,0.0 L5.03,11.26 L-3.03,11.26 L-7.06,0.0 L-3.03,-11.26 L5.03,-11.26 Z" class="w"/>
<path d="M12.56,0.0 L8.53,11.26 L0.47,11.26 L-3.56,0.0 L0.47,-11.26 L8.53,-11.26 Z" class="w"/>
<path d="M9.06,0.00 L12.56,0.00" class="l"/>
<path d="M5.03,11.26 L8.53,11.26" class="l"/>
<path d="M5.03,-11.26 L8.53,-11.26" class="l"/>
<ellipse cx="6.5" cy="0" rx="5.8" ry="10" class="bt" />
</g>
<ellipse cx="978.5" cy="1108.6" rx="28" ry="15.8" class="w" />
<ellipse cx="978.5" cy="1104" rx="28" ry="15.8" class="w" />
<path d="M963,1097.6 L963,1105 A15.5,7.4 0 0 0 994,1105 L994,1097.6" class="w"/>
<ellipse cx="978.5" cy="1097.6" rx="15.5" ry="7.4" class="w" />
<ellipse cx="978" cy="1097.2" rx="9" ry="4.7" class="w" />
<path d="M962,1243 L962,1251 L970,1258 L985.5,1258 L993.3,1251 L993.3,1243 Z" class="w"/>
<path d="M970,1248 L970,1258 M985.5,1248 L985.5,1258 M962,1243 L970,1248 L985.5,1248 L993.3,1243" class="l"/>
<ellipse cx="977.7" cy="1240.5" rx="14" ry="5" class="w" />
<path d="M968.4,1172.6 L968.4,1240 A9.3,4 0 0 0 987,1240 L987,1172.6" class="w"/>
<ellipse cx="977.7" cy="1172.6" rx="8.9" ry="4.7" class="w" />
<ellipse cx="977.7" cy="1173.8" rx="8" ry="3.6" class="l" />
<path d="M720,622.7 L966.7,765.8 M1075,828.6 L1283,949 M790,625 L1001,746.7 M1110,809 L1317,929" class="dd"/>
<path d="M978,548 L978,1087 M977.7,1135 L977.7,1163" class="dd"/>
<circle cx="401.6" cy="338.4" r="19.2" class="c"/>
<text x="402.6" y="348.59999999999997" class="n"></text>
<path d="M420.8,338.4 L444.4,338.4 L505,415.6" class="ld"/>
<path d="M505.0,415.6 L495.7,408.9 L500.7,405.0 Z" class="ah"/>
<path d="M405.5,348.0 L405.5,329.0 L403.3,329.0 L402.1,331.0 L400.0,332.6 L397.7,333.7 L397.7,336.0 L400.2,334.9 L402.6,333.4 L402.6,348.0 Z" fill="#000"/>
<circle cx="1297.6" cy="268" r="19.2" class="c"/>
<text x="1298.6" y="278.2" class="n">7</text>
<path d="M1278.3999999999999,268 L1254,268 L1201,313" class="ld"/>
<path d="M1201.0,313.0 L1207.3,303.4 L1211.5,308.3 Z" class="ah"/>
<circle cx="1336.6" cy="362.4" r="19.2" class="c"/>
<text x="1337.6" y="372.59999999999997" class="n"></text>
<path d="M1317.3999999999999,362.4 L1293,362.4 L1248,397" class="ld"/>
<path d="M1248.0,397.0 L1254.8,387.8 L1258.7,392.8 Z" class="ah"/>
<path d="M1333.6,372.2 L1333.6,352.9 L1331.4,352.9 L1330.2,354.9 L1328.1,356.5 L1325.8,357.6 L1325.8,359.9 L1328.3,358.8 L1330.7,357.3 L1330.7,372.2 Z" fill="#000"/>
<text x="1345.8" y="372.2" class="n">0</text>
<circle cx="1066.4" cy="377.3" r="19.2" class="c"/>
<text x="1067.4" y="387.5" class="n">7</text>
<path d="M1047.2,377.3 L1022.4,377.3 L990.7,430" class="ld"/>
<path d="M990.7,430.0 L993.6,418.9 L999.1,422.2 Z" class="ah"/>
<circle cx="1069" cy="478.3" r="19.2" class="c"/>
<text x="1070" y="488.5" class="n">9</text>
<path d="M1049.8,478.3 L1025.3,478.3 L993.6,512.7" class="ld"/>
<path d="M993.6,512.7 L998.7,502.4 L1003.4,506.8 Z" class="ah"/>
<circle cx="1380" cy="517.9" r="19.2" class="c"/>
<text x="1381" y="528.1" class="n">4</text>
<path d="M1360.8,517.9 L1336,517.9 L1281.9,557.8" class="ld"/>
<path d="M1281.9,557.8 L1288.9,548.7 L1292.7,553.8 Z" class="ah"/>
<circle cx="1055.3" cy="707.5" r="19.2" class="c"/>
<text x="1056.3" y="717.7" class="n">5</text>
<path d="M1074.5,707.5 L1099.7,707.5 L1153.2,678.8" class="ld"/>
<path d="M1153.2,678.8 L1145.0,686.8 L1142.0,681.2 Z" class="ah"/>
<circle cx="825" cy="899.3" r="19.2" class="c"/>
<text x="826" y="909.5" class="n">3</text>
<path d="M844.2,899.3 L868.7,899.3 L920,841" class="ld"/>
<path d="M920.0,841.0 L915.1,851.4 L910.3,847.1 Z" class="ah"/>
<circle cx="1166.5" cy="1041.6" r="19.2" class="c"/>
<text x="1167.5" y="1051.8" class="n">2</text>
<path d="M1147.3,1041.6 L1122.7,1041.6 L1079.7,996.7" class="ld"/>
<path d="M1079.7,996.7 L1089.6,1002.4 L1085.0,1006.9 Z" class="ah"/>
<circle cx="1091.2" cy="1158.2" r="19.2" class="c"/>
<text x="1092.2" y="1168.4" class="n">9</text>
<path d="M1072.0,1158.2 L1047.7,1158.2 L1001,1118.2" class="ld"/>
<path d="M1001.0,1118.2 L1011.4,1122.9 L1007.3,1127.8 Z" class="ah"/>
<circle cx="1080.3" cy="1246.2" r="19.2" class="c"/>
<text x="1081.3" y="1256.4" class="n">5</text>
<path d="M1061.1,1246.2 L1036,1246.2 L987.8,1207.6" class="ld"/>
<path d="M987.8,1207.6 L998.4,1212.0 L994.4,1217.0 Z" class="ah"/>
<circle cx="1480.2" cy="1027.3" r="19.2" class="c"/>
<text x="1481.2" y="1037.5" class="n">6</text>
<path d="M1461.0,1027.3 L1435.5,1027.3 L1335,984.8 M1435.5,1027.3 L1368,966.5" class="ld"/>
<path d="M1335.0,984.8 L1346.4,986.1 L1343.9,992.0 Z" class="ah"/>
<path d="M1368.0,966.5 L1378.3,971.5 L1374.0,976.2 Z" class="ah"/>
<path d="M619.3,937.5 L644.5,937.5 L954,540.7 M644.5,937.5 L952.7,787.8 M644.5,937.5 L962,962.3 M644.5,937.5 L950.5,1102.6" class="ld"/>
<path d="M954.0,540.7 L949.8,551.3 L944.7,547.4 Z" class="ah"/>
<path d="M952.7,787.8 L944.2,795.5 L941.4,789.7 Z" class="ah"/>
<path d="M962.0,962.3 L950.8,964.6 L951.3,958.3 Z" class="ah"/>
<path d="M950.5,1102.6 L939.3,1100.2 L942.3,1094.6 Z" class="ah"/>
<path d="M644.5,937.5 L694.7,969.9" class="ld"/>
<path d="M694.7,969.9 L683.7,966.6 L687.2,961.2 Z" class="ah"/>
<path d="M712,562 L722,536 L732,548 L745,522 L758,548 L770,540 L780,566 L746,574 Z" fill="#000" fill-opacity="0.06"/>
<path d="M693,606 L797,606 L768,640 L745,668 L722,640 Z M716,614 L745,650 L774,614 Z" fill="#000" fill-opacity="0.06" fill-rule="evenodd"/>
<g opacity="0.085"><text x="493" y="769.5" class="wm" textLength="519" lengthAdjust="spacingAndGlyphs">LEADVENTURE</text></g>
<text x="488" y="943.2" class="g" textLength="124.7" lengthAdjust="spacingAndGlyphs">APPLY GREASE</text>
<text x="488" y="957.4" class="g" textLength="82.2" lengthAdjust="spacingAndGlyphs">TO THESE</text>
<text x="488" y="972" class="g" textLength="83" lengthAdjust="spacingAndGlyphs">SURFACES</text>
<text x="488" y="986.7" class="g" textLength="93.2" lengthAdjust="spacingAndGlyphs">AND PIVOT</text>
<text x="488" y="1001.4" class="g" textLength="40.4" lengthAdjust="spacingAndGlyphs">AREA</text>
<text x="600.5" y="1258" class="r" textLength="299" lengthAdjust="spacingAndGlyphs">Rendered by LeadVenture, Inc.</text>
<rect x="0" y="5" width="1.2" height="1.2" fill="#333"/>
<rect x="0" y="10" width="1.2" height="1.2" fill="#333"/>
<rect x="0" y="15" width="1.2" height="1.2" fill="#333"/>
<rect x="0" y="20" width="1.2" height="1.2" fill="#333"/>
<rect x="0" y="25" width="1.2" height="1.2" fill="#333"/>
<rect x="0" y="30" width="1.2" height="1.2" fill="#333"/>
<rect x="5" y="0" width="1" height="1.3" fill="#444"/>
<rect x="10" y="0" width="1" height="1.3" fill="#444"/>
<rect x="0" y="0" width="1" height="1.3" fill="#999"/>
</svg></body></html>
